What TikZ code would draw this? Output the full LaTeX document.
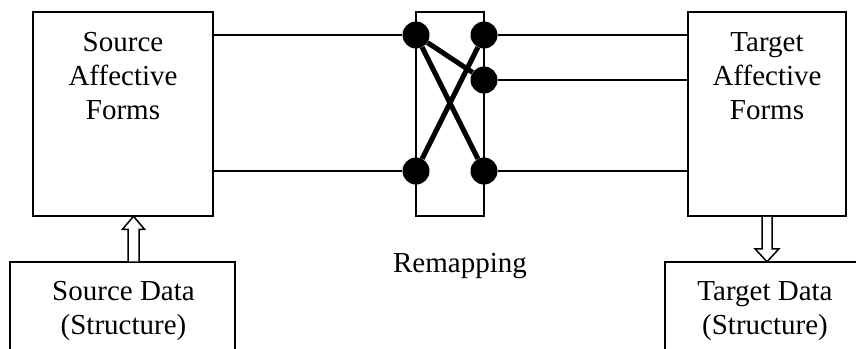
\documentclass[tikz,border=0pt]{standalone}
\usepackage{fontspec}
\setmainfont{Liberation Serif}

\tikzset{
	box/.style={draw, line width=1.5pt, inner sep=0pt},
	dot/.style={circle, fill=black, inner sep=0pt, minimum size=27pt},
	wire/.style={line width=1.5pt},
	cross/.style={line width=5pt},
	txt/.style={font=\fontsize{29}{34}\selectfont, align=center, inner sep=0pt},
	hollow/.style={draw, fill=white, line width=1.5pt, line join=miter}
}

\begin{document}
\begin{tikzpicture}[x=1pt,y=-1pt]
	\useasboundingbox (0,0) rectangle (856,348);
	\clip (0,0) rectangle (856,348);
	% boxes
	\node[box, minimum width=180pt, minimum height=204pt] (srcform) at (123,114) {};
	\node[box, minimum width=68pt, minimum height=204pt] (remap) at (450,114) {};
	\node[box, minimum width=158pt, minimum height=204pt] (tgtform) at (767,114) {};
	\node[box, minimum width=225pt, minimum height=120pt] (srcdata) at (122.5,322) {};
	\node[box, minimum width=205pt, minimum height=120pt] (tgtdata) at (767.5,322) {};
	% texts
	\node[txt, anchor=north] (srclabel) at (123,32.5) {Source\\Affective\\Forms};
	\node[txt, anchor=north] (tgtlabel) at (767,32.5) {Target\\Affective\\Forms};
	\node[txt, anchor=north] (srcdatalabel) at (123.5,281) {Source Data\\(Structure)};
	\node[txt, anchor=north] (tgtdatalabel) at (765,281) {Target Data\\(Structure)};
	\node[txt, anchor=base] (remaplabel) at (460,272) {Remapping};
	% dots
	\node[dot] (l1) at (416,35) {};
	\node[dot] (l2) at (416,171) {};
	\node[dot] (r1) at (484,35) {};
	\node[dot] (r2) at (484,80) {};
	\node[dot] (r3) at (484,171) {};
	% thin lines
	\draw[wire] (srcform.east |- l1) -- (l1);
	\draw[wire] (srcform.east |- l2) -- (l2);
	\draw[wire] (r1) -- (tgtform.west |- r1);
	\draw[wire] (r2) -- (tgtform.west |- r2);
	\draw[wire] (r3) -- (tgtform.west |- r3);
	% crossing
	\draw[cross] (l1) -- (r2);
	\draw[cross] (l1) -- (r3);
	\draw[cross] (l2) -- (r1);
	% hollow arrows
	\coordinate (upfoot) at (srcdata.north -| 133.5,0);
	\coordinate (downfoot) at (tgtform.south -| 767,0);
	\draw[hollow] (upfoot) ++(-5.5,0) -- ++(0,-32) -- ++(-5.5,0) -- ++(11,-13)
		-- ++(11,13) -- ++(-5.5,0) -- ++(0,32);
	\draw[hollow] (downfoot) ++(-5,0) -- ++(0,32) -- ++(-7,0) -- ++(12,13)
		-- ++(12,-13) -- ++(-7,0) -- ++(0,-32);
\end{tikzpicture}
\end{document}
